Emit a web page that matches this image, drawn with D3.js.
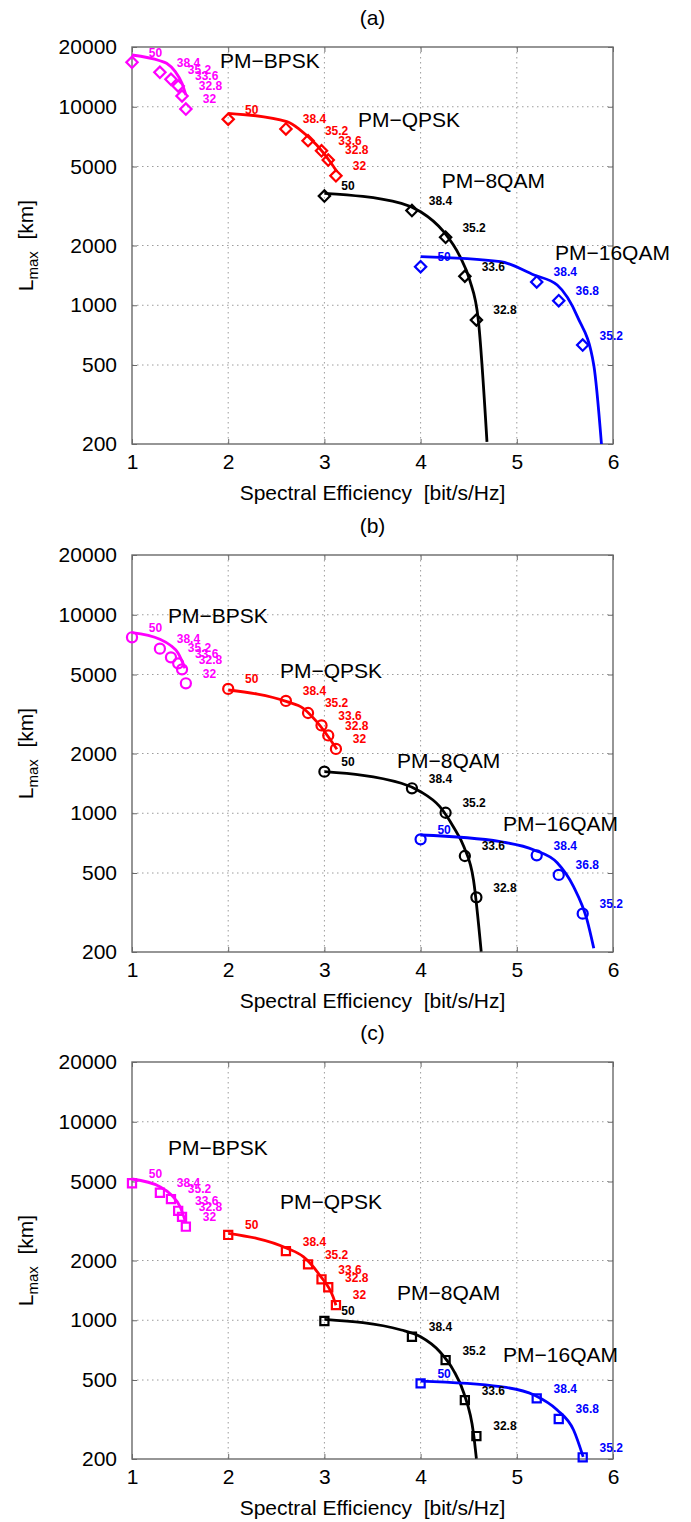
<!DOCTYPE html>
<html>
<head>
<meta charset="utf-8">
<script src="https://cdn.jsdelivr.net/npm/d3@7"></script>
<style>
  body { margin: 0; background: #fff; }
  svg { display: block; font-family: "Liberation Sans", Arial, Helvetica, sans-serif; }
</style>
</head>
<body>
<div id="chart"></div>
<script>
// ---- data ----
const panelTitles = ['(a)', '(b)', '(c)'];
const xTicks = [1, 2, 3, 4, 5, 6];
const yTicks = [200, 500, 1000, 2000, 5000, 10000, 20000];
const formats = ['PM\u2212BPSK', 'PM\u2212QPSK', 'PM\u22128QAM', 'PM\u221216QAM'];
const formatColors = ['#ff00ff', '#ff0000', '#000000', '#0000ff'];

// overhead [%] written next to each simulated point
const ohLabels = [
  ['50', '38.4', '35.2', '33.6', '32.8', '32'],
  ['50', '38.4', '35.2', '33.6', '32.8', '32'],
  ['50', '38.4', '35.2', '33.6', '32.8'],
  ['50', '38.4', '36.8', '35.2']
];

// spectral efficiency of the simulated points (same in all panels)
const markerX = [
  [1.0, 1.29, 1.405, 1.48, 1.52, 1.56],
  [2.0, 2.6, 2.83, 2.97, 3.04, 3.12],
  [3.0, 3.91, 4.26, 4.46, 4.58],
  [4.0, 5.207, 5.436, 5.685]
];

// Lmax [km] of simulated points, one array per panel
const markerYa = [
  [16750, 14910, 13750, 12720, 11330, 9740],
  [8650, 7730, 6750, 6000, 5390, 4490],
  [3550, 3000, 2200, 1400, 843],
  [1564, 1310, 1054, 630]
];
const markerYb = [
  [7700, 6750, 6100, 5690, 5310, 4515],
  [4230, 3680, 3200, 2770, 2465, 2108],
  [1620, 1336, 1006, 609, 377],
  [739, 614, 489, 312]
];
const markerYc = [
  [4900, 4390, 4080, 3560, 3320, 2960],
  [2690, 2230, 1913, 1608, 1466, 1193],
  [991, 826, 630, 396, 261],
  [481, 404, 318, 204]
];

// analytic curves
const lineXa = [
  [1.0, 1.29, 1.36, 1.45, 1.52, 1.56],
  [2.0, 2.61, 2.75, 2.92, 3.06, 3.13],
  [3.0, 3.8, 4.0, 4.24, 4.41, 4.51, 4.6, 4.69],
  [4.0, 4.83, 5.18, 5.42, 5.63, 5.8, 5.88]
];
const lineYa = [
  [18230, 17060, 16560, 15020, 13130, 11460],
  [9270, 8410, 7635, 6418, 5287, 4710],
  [3664, 3263, 2960, 2347, 1756, 1341, 843, 205],
  [1756, 1657, 1420, 1265, 876, 500, 200]
];
const lineXb = [
  [1.0, 1.29, 1.395, 1.48, 1.55],
  [2.0, 2.61, 2.78, 2.92, 3.13],
  [3.0, 3.8, 4.0, 4.2, 4.34, 4.45, 4.55, 4.63],
  [4.0, 4.83, 5.18, 5.42, 5.59, 5.73, 5.8]
];
const lineYb = [
  [8120, 7520, 7040, 6395, 5374],
  [4178, 3648, 3379, 2893, 2100],
  [1619, 1416, 1284, 1079, 855, 678, 461, 201],
  [777, 719, 653, 563, 427, 290, 209]
];
const lineXc = [
  [1.0, 1.29, 1.41, 1.5, 1.55],
  [2.0, 2.61, 2.78, 2.95, 3.09, 3.12],
  [3.0, 3.8, 4.0, 4.2, 4.34, 4.45, 4.55, 4.58],
  [4.0, 4.83, 5.18, 5.42, 5.59, 5.69]
];
const lineYc = [
  [5147, 4708, 4276, 3733, 3199],
  [2742, 2305, 2090, 1690, 1314, 1190],
  [1011, 893, 826, 694, 561, 429, 269, 201],
  [494, 463, 420, 353, 280, 205]
];

// where the format names sit (data coords, left/baseline)
const nameXa = [1.915, 3.349, 4.219, 5.397];
const nameYa = [15620, 7934, 3897, 1690];
const nameXb = [1.374, 2.538, 3.755, 4.857];
const nameYb = [9087, 4802, 1690, 814];
const nameXc = [1.374, 2.538, 3.755, 4.857];
const nameYc = [6801, 3635, 1265, 616];

const panels = [
  { title: panelTitles[0], mY: markerYa, lX: lineXa, lY: lineYa, nX: nameXa, nY: nameYa, shape: 'diamond' },
  { title: panelTitles[1], mY: markerYb, lX: lineXb, lY: lineYb, nX: nameXb, nY: nameYb, shape: 'circle' },
  { title: panelTitles[2], mY: markerYc, lX: lineXc, lY: lineYc, nX: nameXc, nY: nameYc, shape: 'square' }
];

// ---- layout ----
const W = 691, H = 1522;
const left = 132, right = 78;
const panelTop = [47, 555, 1062];
const ph = 397;
const pw = W - left - right;
const axisGrey = '#6a6a6a';

const svg = d3.select('#chart').append('svg')
  .attr('width', W)
  .attr('height', H);

const x = d3.scaleLinear().domain([1, 6]).range([0, pw]);
const y = d3.scaleLog().domain([200, 20000]).range([ph, 0]);

const line = d3.line()
  .x(d => x(d[0]))
  .y(d => y(d[1]))
  .curve(d3.curveMonotoneX);

const symbols = {
  diamond: d3.symbol().type(d3.symbolSquare).size(64)(),
  circle: d3.symbol().type(d3.symbolCircle).size(80)(),
  square: d3.symbol().type(d3.symbolSquare).size(66)()
};

function styleAxis(sel, fontSize) {
  sel.select('.domain').remove();
  sel.selectAll('.tick line').attr('stroke', axisGrey).attr('stroke-width', 1);
  sel.selectAll('.tick text')
    .attr('fill', '#000')
    .style('font-size', fontSize + 'px');
}

panels.forEach((p, i) => {
  const g = svg.append('g')
    .attr('transform', `translate(${left},${panelTop[i]})`);

  // title
  svg.append('text')
    .attr('x', left + pw / 2)
    .attr('y', panelTop[i] - 22)
    .attr('text-anchor', 'middle')
    .style('font-size', '21px')
    .text(p.title);

  // dotted grid
  g.selectAll('.gx')
    .data(xTicks.slice(1, -1))
    .enter()
    .append('line')
      .attr('x1', d => x(d)).attr('x2', d => x(d))
      .attr('y1', 0).attr('y2', ph)
      .attr('stroke', '#9c9c9c')
      .attr('stroke-width', 1)
      .attr('stroke-dasharray', '1.5,3.5');
  g.selectAll('.gy')
    .data(yTicks.slice(1, -1))
    .enter()
    .append('line')
      .attr('x1', 0).attr('x2', pw)
      .attr('y1', d => y(d)).attr('y2', d => y(d))
      .attr('stroke', '#9c9c9c')
      .attr('stroke-width', 1)
      .attr('stroke-dasharray', '1.5,3.5');

  // axes, ticks pointing inwards
  g.append('g')
    .attr('transform', `translate(0,${ph})`)
    .call(d3.axisBottom(x).tickValues(xTicks).tickFormat(d3.format('d'))
      .tickSizeInner(-5).tickSizeOuter(0).tickPadding(10))
    .call(s => styleAxis(s, 21));
  g.append('g')
    .call(d3.axisLeft(y).tickValues(yTicks).tickFormat(d3.format('d'))
      .tickSizeInner(-5).tickSizeOuter(0).tickPadding(15))
    .call(s => styleAxis(s, 21));
  g.append('g')
    .call(d3.axisTop(x).tickValues(xTicks).tickFormat('')
      .tickSizeInner(-5).tickSizeOuter(0))
    .call(s => styleAxis(s, 21));
  g.append('g')
    .attr('transform', `translate(${pw},0)`)
    .call(d3.axisRight(y).tickValues(yTicks).tickFormat('')
      .tickSizeInner(-5).tickSizeOuter(0))
    .call(s => styleAxis(s, 21));

  // frame
  g.append('rect')
    .attr('width', pw)
    .attr('height', ph)
    .attr('fill', 'none')
    .attr('stroke', axisGrey)
    .attr('stroke-width', 1.4);

  // curves
  p.lX.forEach((xs, k) => {
    g.append('path')
      .datum(xs.map((v, j) => [v, p.lY[k][j]]))
      .attr('d', line)
      .attr('fill', 'none')
      .attr('stroke', formatColors[k])
      .attr('stroke-width', 2.8);
  });

  // simulated points + overhead labels
  markerX.forEach((xs, k) => {
    const pts = xs.map((v, j) => ({ x: v, y: p.mY[k][j], lab: ohLabels[k][j] }));
    g.selectAll('.mk' + k)
      .data(pts)
      .enter()
      .append('path')
        .attr('d', symbols[p.shape])
        .attr('transform', d => `translate(${x(d.x)},${y(d.y)})` + (p.shape === 'diamond' ? ' rotate(45)' : ''))
        .attr('fill', 'none')
        .attr('stroke', formatColors[k])
        .attr('stroke-width', 2.2);
    g.selectAll('.oh' + k)
      .data(pts)
      .enter()
      .append('text')
        .attr('x', d => x(d.x + 0.175))
        .attr('y', d => y(d.y * 1.12))
        .attr('dy', '0.35em')
        .attr('fill', formatColors[k])
        .style('font-size', '12px')
        .style('font-weight', 'bold')
        .text(d => d.lab);
  });

  // format names
  formats.forEach((f, k) => {
    g.append('text')
      .attr('x', x(p.nX[k]))
      .attr('y', y(p.nY[k]))
      .style('font-size', '21px')
      .text(f);
  });

  // axis titles
  svg.append('text')
    .attr('x', left + pw / 2)
    .attr('y', panelTop[i] + ph + 56)
    .attr('text-anchor', 'middle')
    .style('font-size', '21px')
    .text('Spectral Efficiency\u00a0\u00a0[bit/s/Hz]');

  const yl = svg.append('text')
    .attr('transform', `translate(33,${panelTop[i] + ph / 2}) rotate(-90)`)
    .attr('text-anchor', 'middle')
    .style('font-size', '21px');
  yl.append('tspan').text('L');
  yl.append('tspan').attr('dy', 5).style('font-size', '15px').text('max');
  yl.append('tspan').attr('dy', -5).text('\u00a0\u00a0[km]');
});
</script>
</body>
</html>
